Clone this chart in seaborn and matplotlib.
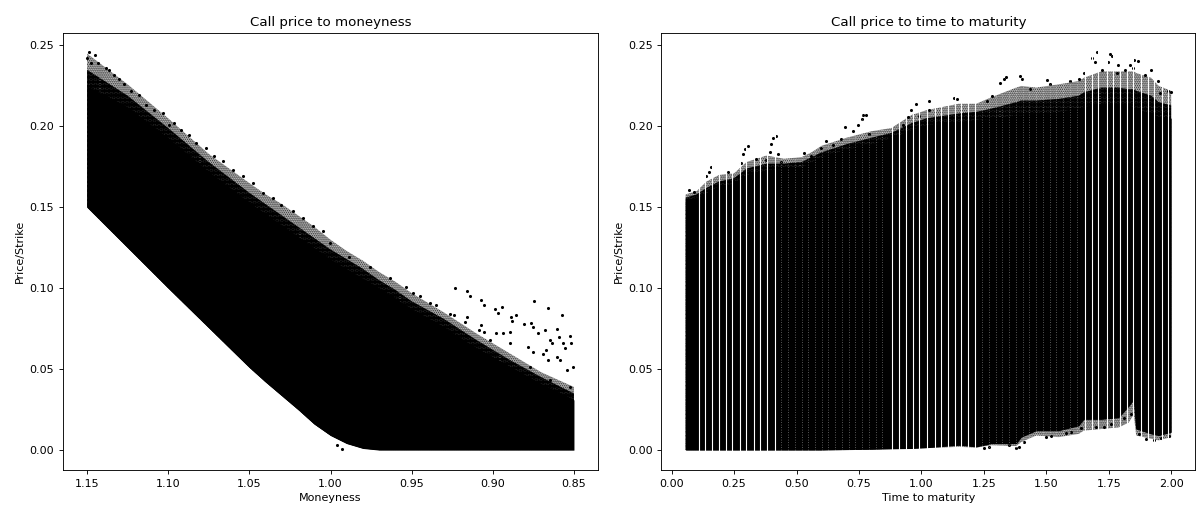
import matplotlib
matplotlib.use("Agg")
import numpy as np
import seaborn as sns
import matplotlib.pyplot as plt

# ---- left panel: call price / strike against moneyness ----
# envelope of the dense cloud and of its speckled fringe
money_grid = [0.85, 0.87, 0.89, 0.91, 0.93, 0.95, 0.96, 0.97, 0.98, 0.99, 1.00,
              1.01, 1.02, 1.03, 1.04, 1.05, 1.075, 1.10, 1.125, 1.15]
money_low = [0.0, 0.0, 0.0, 0.0, 0.0, 0.0, 0.0, 0.0, 0.001, 0.004, 0.009,
             0.016, 0.025, 0.0335, 0.042, 0.051, 0.0755, 0.100, 0.125, 0.150]
money_dense = [0.031, 0.041, 0.052, 0.063, 0.076, 0.087, 0.094, 0.100, 0.106, 0.112, 0.118,
               0.125, 0.132, 0.139, 0.146, 0.153, 0.172, 0.193, 0.212, 0.225]
money_mid = [0.035, 0.045, 0.056, 0.068, 0.081, 0.092, 0.099, 0.105, 0.112, 0.118, 0.124,
             0.131, 0.138, 0.145, 0.152, 0.159, 0.178, 0.199, 0.219, 0.235]
money_fringe = [0.039, 0.048, 0.060, 0.072, 0.085, 0.097, 0.104, 0.110, 0.117, 0.123, 0.130,
                0.138, 0.145, 0.152, 0.158, 0.165, 0.183, 0.205, 0.226, 0.245]

# loose points on the upper fringe and the outliers
money_pts_x = [1.1488, 1.1451, 1.15, 1.1477, 1.143, 1.1385, 1.1364, 1.1333, 1.1302, 1.1272,
               1.123, 1.1179, 1.1134, 1.1086, 1.1035, 1.0994, 1.0963, 1.0922, 1.087, 1.0829,
               1.0767, 1.0716, 1.0665, 1.0603, 1.0541, 1.048, 1.0418, 1.0356, 1.0304, 1.0233,
               1.0171, 1.0109, 1.0047, 1.0006, 0.9883, 0.9759, 0.9632, 0.9537, 0.9492, 0.9446,
               0.9389, 0.9352, 0.9266, 0.9241, 0.9235, 0.9162, 0.9142, 0.907, 0.9056, 0.8988,
               0.8942, 0.8967, 0.8747, 0.8659, 0.8572, 0.8885, 0.8854, 0.8879, 0.8809, 0.8767,
               0.8751, 0.872, 0.8679, 0.8648, 0.8638, 0.8607, 0.8591, 0.8566, 0.8556, 0.8525,
               0.8517, 0.8508, 0.8782, 0.8751, 0.869, 0.8673, 0.8659, 0.8607, 0.8586, 0.8545,
               0.8895, 0.8937, 0.8983, 0.8895, 0.9162, 0.9173, 0.907, 0.9085, 0.9056, 0.9018,
               0.8771, 0.8648, 0.8525, 0.996, 0.993]
money_pts_y = [0.2459, 0.2438, 0.2424, 0.2393, 0.2393, 0.2362, 0.2351, 0.232, 0.229, 0.2259,
               0.2217, 0.2197, 0.2135, 0.2104, 0.2084, 0.2011, 0.2022, 0.198, 0.1949, 0.1898,
               0.1867, 0.1815, 0.1784, 0.1733, 0.1691, 0.165, 0.1588, 0.1558, 0.1516, 0.1475,
               0.1434, 0.1382, 0.1351, 0.1279, 0.1196, 0.1134, 0.1066, 0.101, 0.097, 0.0949,
               0.0908, 0.0897, 0.0842, 0.0835, 0.1004, 0.098, 0.0949, 0.0928, 0.0897, 0.0872,
               0.0883, 0.0846, 0.0924, 0.0877, 0.0835, 0.0825, 0.0835, 0.080, 0.078, 0.0784,
               0.0763, 0.0722, 0.0743, 0.068, 0.0664, 0.0747, 0.0701, 0.066, 0.0633, 0.0705,
               0.066, 0.0516, 0.064, 0.0608, 0.0594, 0.0619, 0.0557, 0.0577, 0.0557, 0.0495,
               0.0664, 0.0722, 0.0726, 0.0732, 0.0825, 0.0794, 0.0774, 0.0743, 0.0732, 0.068,
               0.0516, 0.0433, 0.0392, 0.0031, 0.0005]

# ---- right panel: call price / strike against time to maturity ----
mat_grid = [0.056, 0.10, 0.14, 0.19, 0.25, 0.30, 0.38, 0.45, 0.52, 0.56, 0.60,
            0.70, 0.80, 0.88, 0.96, 1.02, 1.15, 1.22, 1.28, 1.38, 1.40, 1.46,
            1.55, 1.63, 1.65, 1.72, 1.79, 1.83, 1.85, 1.86, 1.92, 1.95, 2.0]
mat_low_fringe = [0.0, 0.0, 0.0, 0.0, 0.0, 0.0, 0.0, 0.0, 0.0, 0.0, 0.0,
                  0.0002, 0.0004, 0.0006, 0.0008, 0.0012, 0.002, 0.0015, 0.003, 0.0025, 0.005,
                  0.009, 0.008, 0.010, 0.012, 0.013, 0.014, 0.017, 0.022, 0.009, 0.007, 0.006,
                  0.008]
mat_low = [0.0, 0.0, 0.0, 0.0, 0.0, 0.0, 0.0, 0.0, 0.0, 0.0, 0.0,
           0.0003, 0.0005, 0.0008, 0.001, 0.0015, 0.003, 0.002, 0.004, 0.004, 0.008, 0.012,
           0.012, 0.015, 0.019, 0.019, 0.020, 0.027, 0.031, 0.013, 0.010, 0.009, 0.011]
mat_dense = [0.154, 0.156, 0.159, 0.163, 0.165, 0.170, 0.173, 0.174, 0.175, 0.178, 0.181,
             0.186, 0.189, 0.193, 0.198, 0.201, 0.203, 0.204, 0.205, 0.207, 0.207, 0.208,
             0.209, 0.211, 0.212, 0.214, 0.214, 0.213, 0.212, 0.211, 0.208, 0.206, 0.205]
mat_mid = [0.156, 0.158, 0.162, 0.166, 0.168, 0.174, 0.177, 0.177, 0.178, 0.181, 0.184,
           0.189, 0.193, 0.196, 0.202, 0.205, 0.208, 0.209, 0.211, 0.215, 0.216, 0.216,
           0.217, 0.219, 0.221, 0.224, 0.224, 0.223, 0.223, 0.222, 0.219, 0.215, 0.213]
mat_fringe = [0.158, 0.160, 0.166, 0.170, 0.171, 0.178, 0.182, 0.180, 0.181, 0.184, 0.188,
              0.193, 0.197, 0.199, 0.207, 0.210, 0.214, 0.214, 0.218, 0.224, 0.225, 0.224,
              0.226, 0.228, 0.230, 0.234, 0.234, 0.234, 0.234, 0.233, 0.230, 0.225, 0.222]

# maturities with no quotes (white stripes)
mat_gaps = [0.108, 0.135, 0.161, 0.188, 0.216, 0.243, 0.272, 0.299, 0.328, 0.355, 0.381, 0.412,
            0.883, 0.909, 0.939, 0.968, 0.992, 1.023, 1.053, 1.080, 1.107, 1.133, 1.160, 1.187,
            1.216, 1.656, 1.683, 1.709, 1.743, 1.769, 1.796, 1.823, 1.849, 1.880, 1.907, 1.933,
            1.963, 1.989]
mat_faint_gaps = [0.439, 0.466, 0.493, 0.520, 0.547, 0.574, 0.601, 0.628, 0.655, 0.682, 0.709,
                  0.736, 0.763, 0.790, 0.817, 0.844, 1.243, 1.270, 1.297, 1.324, 1.351, 1.378,
                  1.405, 1.432, 1.459, 1.486, 1.513, 1.540, 1.567, 1.594, 1.621]

mat_pts_x = [0.069, 0.089, 0.139, 0.149, 0.159, 0.225, 0.279, 0.285, 0.292, 0.305, 0.336, 0.376,
             0.392, 0.399, 0.405, 0.416, 0.425, 0.439, 0.528, 0.559, 0.599, 0.619, 0.645, 0.679,
             0.696, 0.725, 0.745, 0.763, 0.768, 0.779, 0.792, 0.869, 0.925, 0.945, 0.959, 0.979,
             0.992, 1.029, 1.032, 1.129, 1.143, 1.263, 1.283, 1.316, 1.329, 1.34, 1.396, 1.403,
             1.436, 1.503, 1.516, 1.596, 1.629, 1.649, 1.683, 1.703, 1.696, 1.723, 1.749, 1.756,
             1.763, 1.783, 1.789, 1.816, 1.836, 1.853, 1.867, 1.849, 1.896, 1.92, 1.949, 1.956,
             1.989, 2.0,
             1.25, 1.27, 1.35, 1.38, 1.39, 1.41, 1.50, 1.52, 1.58, 1.60, 1.64, 1.70, 1.73, 1.76,
             1.81, 1.84, 1.87, 1.90, 1.93, 1.96, 1.99]
mat_pts_y = [0.1609, 0.1592, 0.1691, 0.1716, 0.1747, 0.1716, 0.1774, 0.1832, 0.1861, 0.1881, 0.1799,
             0.1795, 0.184, 0.1894, 0.1929, 0.1943, 0.1832, 0.178, 0.1836, 0.1819, 0.1867, 0.1912,
             0.1887, 0.1923, 0.1997, 0.197, 0.2007, 0.2046, 0.2069, 0.2069, 0.1955, 0.1935, 0.2011,
             0.2059, 0.2104, 0.2141, 0.2067, 0.21, 0.2155, 0.2176, 0.217, 0.2155, 0.2186, 0.2269,
             0.229, 0.2306, 0.231, 0.229, 0.2228, 0.2285, 0.2259, 0.2279, 0.2293, 0.2331, 0.2424,
             0.2459, 0.2398, 0.2351, 0.2398, 0.245, 0.2434, 0.2331, 0.2382, 0.2351, 0.2382, 0.2409,
             0.2403, 0.2362, 0.232, 0.2347, 0.2279, 0.2207, 0.2217, 0.2211,
             0.001, 0.002, 0.003, 0.0015, 0.002, 0.005, 0.008, 0.009, 0.0105, 0.011, 0.0135,
             0.0145, 0.0145, 0.016, 0.020, 0.022, 0.010, 0.007, 0.0065, 0.0075, 0.009]

scale = 0.8
plt.rcParams.update({
    "font.family": "DejaVu Sans",
    "font.size": 10 * scale,
    "axes.titlesize": 12 * scale,
    "axes.labelsize": 10 * scale,
    "xtick.labelsize": 10 * scale,
    "ytick.labelsize": 10 * scale,
    "axes.linewidth": 0.8 * scale,
    "xtick.major.width": 0.8 * scale,
    "ytick.major.width": 0.8 * scale,
    "xtick.major.size": 3.5 * scale,
    "ytick.major.size": 3.5 * scale,
    "axes.titlepad": 6 * scale,
    "axes.labelpad": 4 * scale,
    "hatch.color": "black",
})

W, H = 1196, 507
fig = plt.figure(figsize=(W / 100, H / 100), dpi=100)
ax1 = fig.add_axes([62.7 / W, (H - 470) / H, 535.6 / W, 437 / H])
ax2 = fig.add_axes([661.4 / W, (H - 470) / H, 534.0 / W, 437 / H])

ylim = (-0.0123, 0.2577)
dot_kw = dict(s=5, color="black", linewidth=0, legend=False)


def speckle(ax, x, lo, hi, heavy):
    # fringe of the cloud drawn as a fine dot texture; the band starts inside
    # the solid cloud so no seam shows at its edge
    with plt.rc_context({"hatch.linewidth": 1.35 if heavy else 1.05}):
        ax.fill_between(x, lo, hi, facecolor="none", edgecolor="black",
                        hatch="." * (13 if heavy else 8), linewidth=0)


# left
ax1.fill_between(money_grid, money_low, money_dense, color="black", linewidth=0)
speckle(ax1, money_grid, money_low, money_mid, True)
speckle(ax1, money_grid, money_low, money_fringe, False)
sns.scatterplot(x=money_pts_x, y=money_pts_y, ax=ax1, **dot_kw)
ax1.set_xlim(1.165, 0.835)
ax1.set_ylim(*ylim)
ax1.set_title("Call price to moneyness")
ax1.set_xlabel("Moneyness")
ax1.set_ylabel("Price/Strike")

# right
ax2.fill_between(mat_grid, mat_low, mat_dense, color="black", linewidth=0)
speckle(ax2, mat_grid, mat_low, mat_mid, True)
speckle(ax2, mat_grid, mat_low, mat_fringe, False)
speckle(ax2, mat_grid, mat_low_fringe, mat_dense, False)
sns.scatterplot(x=mat_pts_x, y=mat_pts_y, ax=ax2, **dot_kw)
ax2.vlines(mat_gaps, ylim[0], ylim[1], colors="white", linewidth=0.8, zorder=3)
ax2.vlines(mat_faint_gaps, ylim[0], ylim[1], colors="white", linewidth=0.6,
           linestyles=(0, (1, 2)), alpha=0.45, zorder=3)
ax2.set_xlim(-0.041, 2.097)
ax2.set_ylim(*ylim)
ax2.set_xticks([0.0, 0.25, 0.5, 0.75, 1.0, 1.25, 1.5, 1.75, 2.0])
ax2.set_title("Call price to time to maturity")
ax2.set_xlabel("Time to maturity")
ax2.set_ylabel("Price/Strike")

for ax in (ax1, ax2):
    ax.set_yticks([0.0, 0.05, 0.10, 0.15, 0.20, 0.25])
    ax.set_yticklabels(["0.00", "0.05", "0.10", "0.15", "0.20", "0.25"])
    for sp in ax.spines.values():
        sp.set_zorder(5)

fig.savefig("out.png", dpi=100)
